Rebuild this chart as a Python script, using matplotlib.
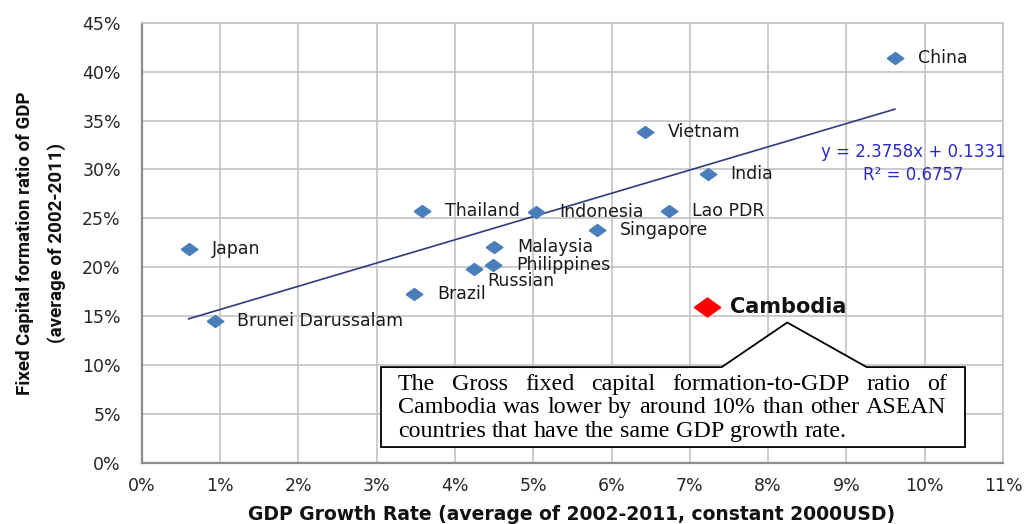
import numpy as np
import matplotlib
matplotlib.use("Agg")
import matplotlib.pyplot as plt
from matplotlib import font_manager as fm
from matplotlib.patches import Polygon
from matplotlib.ticker import PercentFormatter

# GDP growth (avg 2002-2011) vs fixed capital formation ratio of GDP
countries = ["China", "Vietnam", "India", "Lao PDR", "Singapore", "Indonesia",
             "Thailand", "Japan", "Malaysia", "Philippines", "Russian",
             "Brazil", "Brunei Darussalam"]
gdp_growth = [0.0962, 0.0643, 0.0723, 0.0674, 0.0581, 0.0504,
              0.0358, 0.0060, 0.0450, 0.0449, 0.0425, 0.0348, 0.0093]
capital_ratio = [0.4136, 0.3380, 0.2956, 0.2580, 0.2378, 0.2570,
                 0.2580, 0.2190, 0.2207, 0.2028, 0.1987, 0.1730, 0.1450]

cambodia_growth = 0.0722
cambodia_ratio = 0.1595

trend_slope = 2.3758
trend_intercept = 0.1331
trend_r2 = 0.6757

x_ticks = np.arange(0, 0.111, 0.01)
y_ticks = np.arange(0, 0.451, 0.05)

note_lines = [
    "The Gross fixed capital formation-to-GDP ratio of",
    "Cambodia was lower by around 10% than other ASEAN",
    "countries that have the same GDP growth rate.",
]

names = {f.name for f in fm.fontManager.ttflist}
ylab_family = "Liberation Sans Narrow" if "Liberation Sans Narrow" in names else "Roboto"

W, H = 1025, 524
fig = plt.figure(figsize=(W / 100, H / 100), dpi=100)
ax = fig.add_axes([141.7 / W, 1 - 463 / H, (1003 - 141.7) / W, (463 - 22.7) / H])

ax.set_xlim(0, 0.11)
ax.set_ylim(0, 0.45)
ax.set_xticks(x_ticks)
ax.set_yticks(y_ticks)
ax.xaxis.set_major_formatter(PercentFormatter(1.0, decimals=0))
ax.yaxis.set_major_formatter(PercentFormatter(1.0, decimals=0))
ax.grid(True, color="#C3C3C3", lw=1.2)
ax.set_axisbelow(True)
for side in ("top", "right"):
    ax.spines[side].set_color("#C3C3C3")
    ax.spines[side].set_linewidth(1.2)
for side in ("left", "bottom"):
    ax.spines[side].set_color("#8C8C8C")
    ax.spines[side].set_linewidth(1.6)
ax.tick_params(axis="both", length=0, labelsize=12.5, labelcolor="#262626")
ax.tick_params(axis="y", pad=15)
ax.tick_params(axis="x", pad=10)

# wide diamond marker
diamond = [(-1, 0), (0, 0.72), (1, 0), (0, -0.72), (-1, 0)]

# trendline from the stated fit
xs = np.array([min(gdp_growth), max(gdp_growth)])
ax.plot(xs, trend_slope * xs + trend_intercept, color="#2F3A80", lw=1.2, zorder=3)

ax.plot(gdp_growth, capital_ratio, ls="none", marker=diamond, ms=12,
        color="#4A7EBB", mec="#4A7EBB", zorder=4)
ax.plot([cambodia_growth], [cambodia_ratio], ls="none", marker=diamond, ms=19,
        color="#FF0000", mec="#FF0000", zorder=4)

label_offsets = {"Russian": (9, -9)}
for name, gx, cy in zip(countries, gdp_growth, capital_ratio):
    off = label_offsets.get(name, (16.5, 0))
    ax.annotate(name, (gx, cy), xytext=off, textcoords="offset points",
                ha="left", va="center", fontsize=12.5, color="#1A1A1A",
                family="DejaVu Sans", zorder=5)
ax.annotate("Cambodia", (cambodia_growth, cambodia_ratio), xytext=(16.5, 0),
            textcoords="offset points", ha="left", va="center", fontsize=15,
            fontweight="bold", color="#111111", zorder=5)

ax.text(0.0985, 0.3061, f"y = {trend_slope}x + {trend_intercept}\nR\u00b2 = {trend_r2}",
        ha="center", va="center", fontsize=12, color="#2B2BC0",
        linespacing=1.35, zorder=5)

# callout box with pointer towards the Cambodia label
callout = Polygon([(0.03056, 0.0163), (0.10515, 0.0163), (0.10515, 0.0980),
                   (0.09259, 0.0980), (0.08245, 0.1436), (0.07407, 0.0980),
                   (0.03056, 0.0980)], closed=True, facecolor="white",
                  edgecolor="black", lw=1.3, zorder=6, clip_on=False)
ax.add_patch(callout)

# justified paragraph inside the callout
note_size = 17.3
renderer = fig.canvas.get_renderer()
left_px = ax.transData.transform((0.03273, 0))[0]
right_px = ax.transData.transform((0.10280, 0))[0]
baselines = [0.0745, 0.0507, 0.0262]
to_fig = fig.transFigure.inverted()


def text_width(s):
    t = fig.text(0, 0, s, fontsize=note_size, family="Liberation Serif")
    w = t.get_window_extent(renderer).width
    t.remove()
    return w


space_w = text_width("a b") - text_width("ab")
for i, (line, yb) in enumerate(zip(note_lines, baselines)):
    words = line.split(" ")
    ypx = ax.transData.transform((0, yb))[1]
    texts = [fig.text(0, 0, w, fontsize=note_size, family="Liberation Serif",
                      va="baseline", ha="left", zorder=7) for w in words]
    widths = [t.get_window_extent(renderer).width for t in texts]
    if i == len(note_lines) - 1:
        sp = space_w
    else:
        sp = (right_px - left_px - sum(widths)) / (len(words) - 1)
    x = left_px
    for t, w in zip(texts, widths):
        t.set_position(to_fig.transform((x, ypx)))
        x += w + sp

# axis titles
fig.text(572 / W, 1 - 515 / H, "GDP Growth Rate (average of 2002-2011, constant 2000USD)",
         ha="center", va="center", fontsize=13.5, fontweight="bold", color="#111111")
fig.text(25 / W, 1 - 243 / H, "Fixed Capital formation ratio of GDP", rotation=90,
         ha="center", va="center", fontsize=13.5, fontweight="bold",
         family=ylab_family, color="#111111")
fig.text(57 / W, 1 - 243 / H, "(average of 2002-2011)", rotation=90,
         ha="center", va="center", fontsize=13.5, fontweight="bold",
         family=ylab_family, color="#111111")

fig.savefig("out.png", dpi=100)
